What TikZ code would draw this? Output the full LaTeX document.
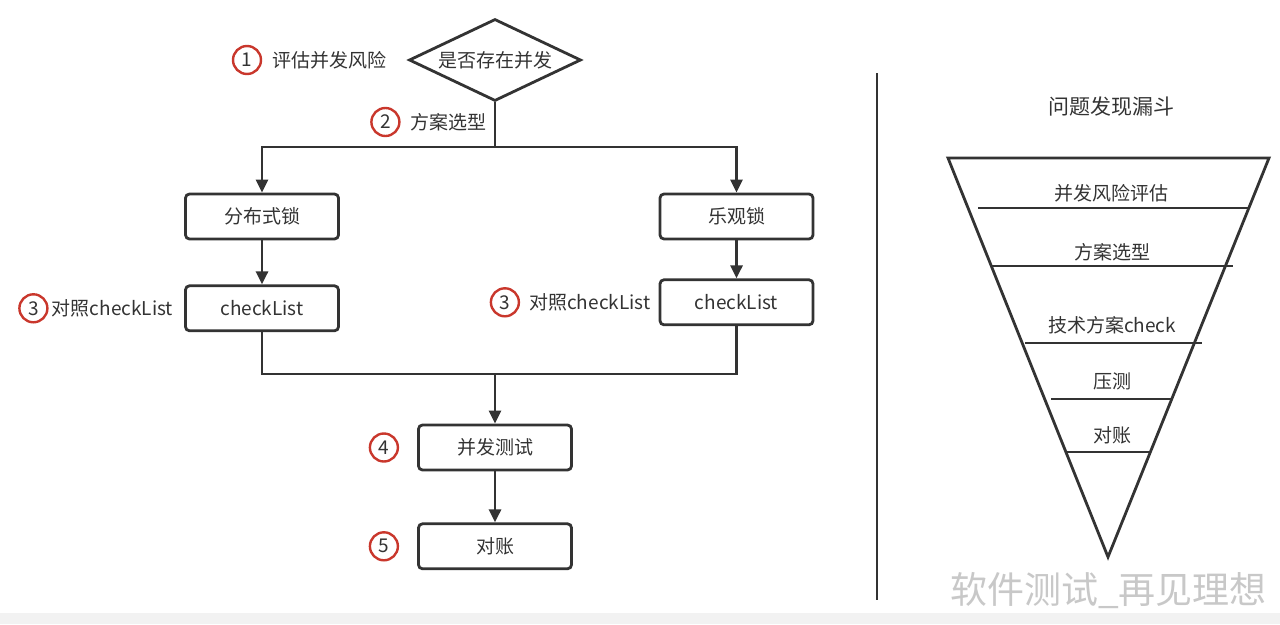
\documentclass[tikz,border=0pt]{standalone}
\usepackage{fontspec}
\setmainfont{Noto Sans CJK SC}
\usetikzlibrary{positioning,shapes.geometric,arrows.meta}

\definecolor{linegray}{HTML}{333333}
\definecolor{stepred}{HTML}{C9372C}
\definecolor{bandgray}{HTML}{F2F2F2}
\definecolor{markgray}{HTML}{C8C8C8}

\tikzset{
  flowbox/.style={draw=linegray, line width=2.8pt, rounded corners=4pt,
    minimum width=153pt, minimum height=45pt, inner sep=0pt, text=linegray},
  decision/.style={diamond, draw=linegray, line width=2.8pt, aspect=2,
    minimum width=172pt, minimum height=82pt, inner sep=0pt, text=linegray},
  stepnum/.style={circle, draw=stepred, line width=2.4pt, minimum size=28pt,
    inner sep=0pt, text=linegray},
  steptext/.style={inner sep=0pt, text=linegray},
  flowline/.style={draw=linegray, line width=2.8pt},
  flowarrow/.style={flowline, -{Triangle[length=13pt,width=12pt]}},
  funnelline/.style={draw=linegray, line width=2.8pt}
}

\begin{document}
\begin{tikzpicture}[x=1pt,y=1pt,font=\fontsize{19}{22}\selectfont]

  \useasboundingbox (0,0) rectangle (1280,-624);
  \fill[bandgray] (0,-613) rectangle (1280,-624);

  % flow
  \node[decision] (dia) at (495,-60) {是否存在并发};

  \node[flowbox] (lock1) at (262,-216.5) {分布式锁};
  \node[flowbox] (lock2) at (736.5,-216.5) {乐观锁};
  \node[flowbox, below=44pt of lock1] (check1) {checkList};
  \node[flowbox, below=38pt of lock2] (check2) {checkList};

  \node[flowbox] (test) at (495,-447.5) {并发测试};
  \node[flowbox, below=51pt of test] (recon) {对账};

  % steps
  \node[steptext, left=21pt of dia] (s1_txt) {评估并发风险};
  \node[stepnum, left=10pt of s1_txt] (s1) {1};

  \node[steptext, anchor=east] (s2_txt) at (487,-122) {方案选型};
  \node[stepnum, left=10pt of s2_txt] (s2) {2};

  \node[steptext, left=11pt of check1] (s3a_txt) {对照checkList};
  \node[stepnum, left=3pt of s3a_txt] (s3a) {3};

  \node[steptext, left=8pt of check2] (s3b_txt) {对照checkList};
  \node[stepnum, left=9pt of s3b_txt] (s3b) {3};

  \node[stepnum, left=18pt of test] (s4) {4};
  \node[stepnum, left=18pt of recon] (s5) {5};

  \coordinate (fork) at (495,-147);
  \coordinate (merge) at (495,-374);

  \draw[flowline] (dia.south) -- (fork);
  \draw[flowarrow] (fork) -| (lock1);
  \draw[flowarrow] (fork) -| (lock2);
  \draw[flowarrow] (lock1) -- (check1);
  \draw[flowarrow] (lock2) -- (check2);
  \draw[flowline] (check1.south) |- (merge);
  \draw[flowline] (check2.south) |- (merge);
  \draw[flowarrow] (merge) -- (test);
  \draw[flowarrow] (test) -- (recon);

  % divider
  \draw[flowline] (877,-73) -- (877,-600);

  % funnel
  \node[text=linegray, font=\fontsize{21}{24}\selectfont] (ftitle) at (1111,-107) {问题发现漏斗};
  \draw[funnelline, line join=miter] (948,-158) -- (1269,-158) -- (1108,-557) -- cycle;
  \draw[funnelline] (978,-208) -- (1248,-208);
  \draw[funnelline] (992,-266) -- (1233,-266);
  \draw[funnelline] (1025,-343) -- (1202,-343);
  \draw[funnelline] (1051,-399) -- (1172,-399);
  \draw[funnelline] (1067,-452) -- (1150,-452);
  \node[steptext] (f1) at (1111,-193) {并发风险评估};
  \node[steptext] (f2) at (1112,-252) {方案选型};
  \node[steptext] (f3) at (1112,-325) {技术方案check};
  \node[steptext] (f4) at (1112,-381) {压测};
  \node[steptext] (f5) at (1112,-435) {对账};

  % watermark
  \node[text=markgray, anchor=west, inner sep=0pt, font=\fontsize{37}{40}\selectfont]
    (mark) at (950,-591) {软件测试\_再见理想};

\end{tikzpicture}
\end{document}
